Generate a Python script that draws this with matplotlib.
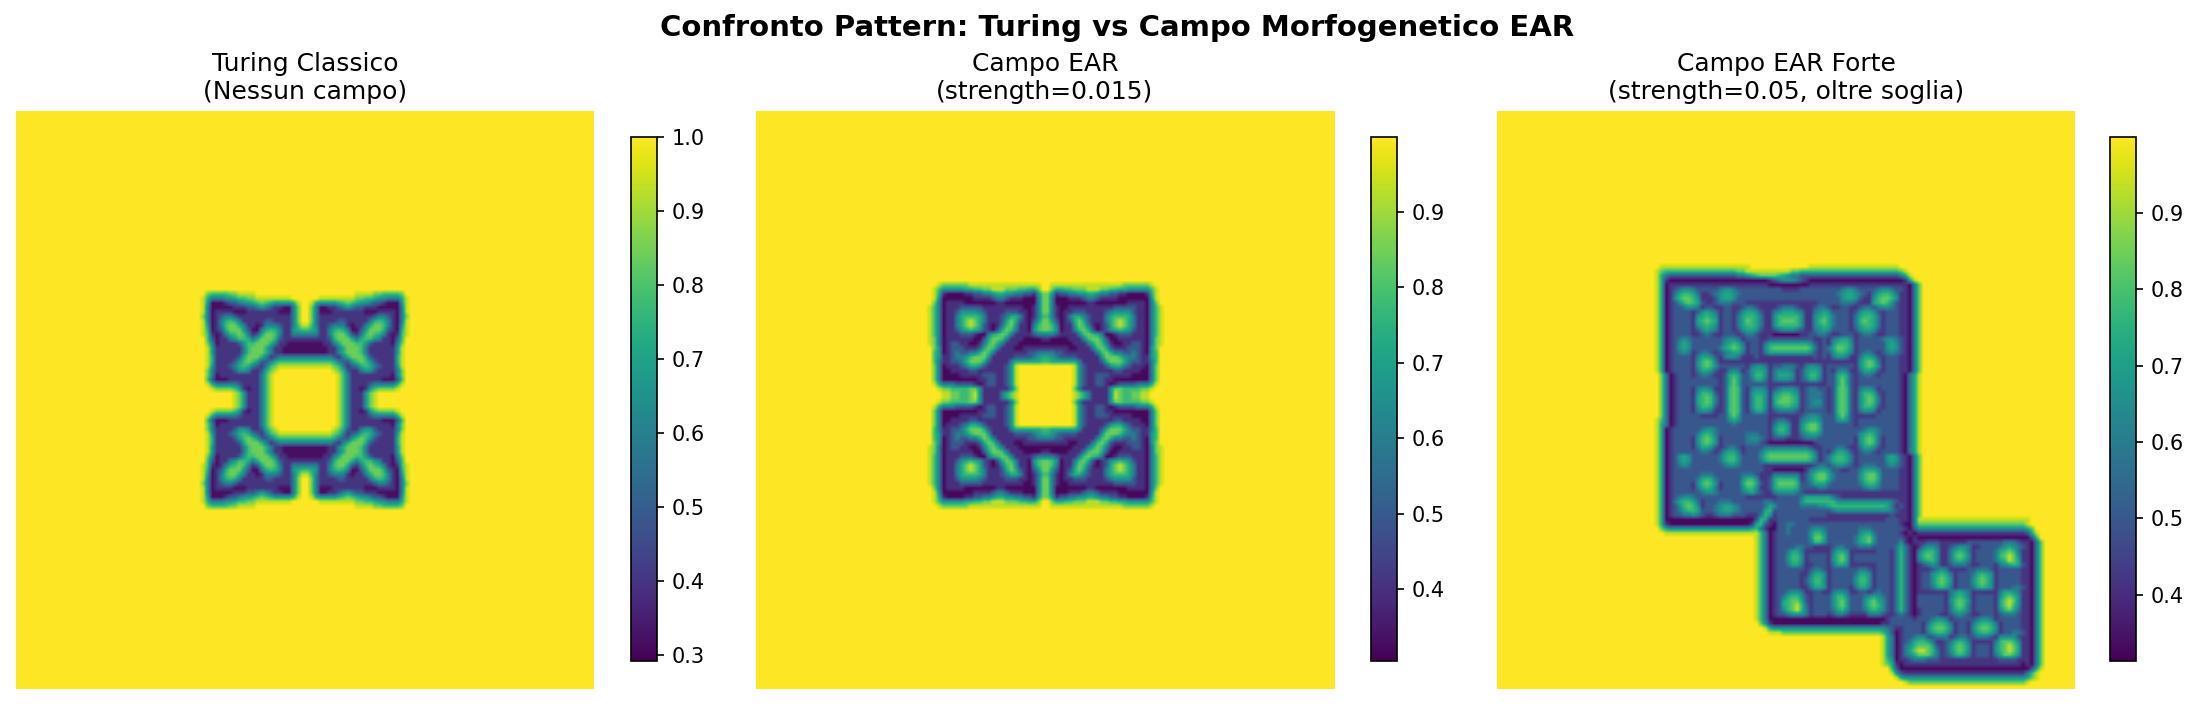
import numpy as np
import matplotlib
matplotlib.use('Agg')
import matplotlib.pyplot as plt

# niveaux : chaque chiffre des lignes = un niveau de u
livelli = [0.32, 0.40, 0.50, 0.60, 0.67, 0.73, 0.78, 0.84, 0.93, 1.0]
livelli_3 = [0.33, 0.42, 0.50, 0.59, 0.66, 0.72, 0.77, 0.83, 0.93, 1.0]

titoli = ['Turing Classico\n(Nessun campo)',
          'Campo EAR\n(strength=0.015)',
          'Campo EAR Forte\n(strength=0.05, oltre soglia)']
vmin_pannelli = [0.292, 0.305, 0.3136]
vmax_pannelli = [1.0, 0.999, 0.999]

# griglia 128x128, hors zone = jaune
N = 128
inizio_1 = (39, 39)
inizio_2 = (37, 37)
inizio_3 = (33, 33)

righe_1 = [
    '9',
    '9997666677888899999999999' '9999999999988887766667999',
    '9985333445667788888888999' '9998888888877665443335899',
    '9984000122344567654444589' '9854444567654432210004899',
    '9983000001112234321100379' '9730011234322111000003899',
    '9983011110001111111000379' '9730001111111000111103899',
    '9973012332111111111111379' '9731111111111112332103799',
    '9983013565311111221111379' '9731111221111135653103899',
    '9984013677531101333211368' '8631123331011357763104899',
    '9985012577742003565311456' '6541135653002477752105899',
    '9986101356763125776311333' '3331136775213676531016899',
    '9996201134665357775211111' '1111125777535664311026999',
    '9997301111246677753110000' '0000113577766421111037999',
    '9998411111136777531100000' '0000011357776311111148999',
    '9998411111136777531100000' '0000011357776311111148999',
    '9998511111257775312333333' '3333332135777521111158999',
    '9998511112467642235666666' '6666665322467642111158999',
    '9998411123565321367888888' '8888887631235653211148999',
    '9997311112443112578999999' '9999998752113442111137999',
    '9997301111111113689999999' '9999999863111111111037999',
    '9996200011111113689999999' '9999999863111111100026999',
    '9998533333211113689999999' '9999999863111123333358999',
    '9999877776410113689999999' '9999999863110146777789999',
    '9999999998741113689999999' '9999999863111478999999999',
    '9999999998741113689999999' '9999999863111478999999999',
    '9999999998741113689999999' '9999999863111478999999999',
    '9999999998741113689999999' '9999999863111478999999999',
    '9999877776410113689999999' '9999999863110146777789999',
    '9998533333211113689999999' '9999999863111123333358999',
    '9996200011111113689999999' '9999999863111111100026999',
    '9997301111111113689999999' '9999999863111111111037999',
    '9997311112443112578999999' '9999998752113442111137999',
    '9998411123565321367888888' '8888887631235653211148999',
    '9998511112467642235666666' '6666665322467642111158999',
    '9998511111257775312333333' '3333332135777521111158999',
    '9998411111136777531100000' '0000011357776311111148999',
    '9998411111136777531100000' '0000011357776311111148999',
    '9997301111246677753110000' '0000113577766421111037999',
    '9996201134665357775211111' '1111125777535664311026999',
    '9986101356763125776311333' '3331136775213676531016899',
    '9985012577742003565311456' '6541135653002477752105899',
    '9984013677531101333211368' '8631123331011357763104899',
    '9983013565311111221111379' '9731111221111135653103899',
    '9973012332111111111111379' '9731111111111112332103799',
    '9983011110001111111000379' '9730001111111000111103899',
    '9983000001112234321100379' '9730011234322111000003899',
    '9984000122344567654444589' '9854444567654432210004899',
    '9985333445667788888888999' '9998888888877665443335899',
    '9997666677888899999999999' '9999999999988887766667999',
    '9',
]

righe_2 = [
    '9',
    '999877777788888888888888889' '988888888888888887777778999',
    '998644444556677888777665579' '975566777888776655444446899',
    '998510000112233455443322147' '741223344554332211000015899',
    '998400000001111233211100037' '730001112332111100000004899',
    '997301111000000011000000037' '730000000110000000111103799',
    '986301112222211111111100137' '731001111111111222221103689',
    '986301124444321111222110137' '731011222111123444421103689',
    '986301135666531112355310136' '631013553211135666531103689',
    '986301135787531112575210247' '742012575211135787531103689',
    '986301135787521013674110367' '763011476310125787531103689',
    '986301124565421025763110467' '764011367520124565421103689',
    '986301112221003567631111233' '332111136765300122211103689',
    '987301111110025776311100001' '100001113677520011111103789',
    '987301221100136753111000000' '000000111357631001122103789',
    '997401222111257631110011111' '111110011136752111222104799',
    '996401232233576311111112233' '332211111113675332232104699',
    '996411233467774111112222345' '543222211111477764332114699',
    '996311223577752111135555556' '655555531111257775322113699',
    '997301112355421111248999999' '999999842111124553211103799',
    '997300111122111111248999999' '999999842111111221111003799',
    '997300001111122211248999999' '999999842112221111100003799',
    '997300000000112211248999999' '999999842112211000000003799',
    '998533322221012211248999999' '999999842112210122223335899',
    '999877666677411111137999999' '999999731111114776666778999',
    '999988776678411113578999999' '999999875311114876677889999',
    '999988776678411113578999999' '999999875311114876677889999',
    '999877666677411111137999999' '999999731111114776666778999',
    '998533322221012211248999999' '999999842112210122223335899',
    '997300000000112211248999999' '999999842112211000000003799',
    '997300001111122211248999999' '999999842112221111100003799',
    '997300111122111111248999999' '999999842111111221111003799',
    '997301112355421111248999999' '999999842111124553211103799',
    '996311223577752111135555556' '655555531111257775322113699',
    '996411233467774111112222345' '543222211111477764332114699',
    '996401232233576311111112233' '332211111113675332232104699',
    '997401222111257631110011111' '111110011136752111222104799',
    '987301221100136753111000000' '000000111357631001122103789',
    '987301111110025776311100001' '100001113677520011111103789',
    '986301112221003567631111233' '332111136765300122211103689',
    '986301124565421025763110467' '764011367520124565421103689',
    '986301135787521013674110367' '763011476310125787531103689',
    '986301135787531112575210247' '742012575211135787531103689',
    '986301135666531112355310136' '631013553211135666531103689',
    '986301124444321111222110137' '731011222111123444421103689',
    '986301112222211111111100137' '731001111111111222221103689',
    '997301111000000011000000037' '730000000110000000111103799',
    '998400000001111233211100037' '730001112332111100000004899',
    '998510000112233455443322147' '741223344554332211000015899',
    '998644444556677888777665579' '975566777888776655444446899',
    '999877777788888888888888889' '988888888888888887777778999',
    '9',
]

# spazi solo per leggere le colonne
righe_3 = [
    '9',
    '9998888888 8888888888 8889999999 9999998888 8888888888 8888889999',
    '9987666666 6666666666 7788888888 8877666666 6666666666 6666667899',
    '9985322222 2222222222 3345677776 5433222222 2222222222 2222223589',
    '9985100000 0000000000 0000000123 4443210000 0000000000 0000000158',
    '9985011111 1111111111 1111111000 0000001111 1111111111 1111111103 79',
    '9985012344 3222223443 2222222222 1111222222 2223443222 2344322103 79',
    '9985013566 5311234554 3222222222 2222222222 2234554321 3566531103 79',
    '9985014677 6411124554 2222222222 2222222222 2224554211 4677641103 79',
    '9985012467 6521123332 2211111111 1111111122 2223332111 5676421103 79',
    '9985012234 4312211221 1233211112 3332111233 2112211233 2344321103 79',
    '9985012222 1245431221 2455421134 5554311345 4222212455 4212221103 79',
    '9985012222 1456541221 3566531146 6666411456 5322213566 5312221103 79',
    '9985012222 1567651221 3576531146 7776411467 5322213676 5312221103 79',
    '9985012222 1456541221 3566531146 6666411456 5322213566 5312221103 79',
    '9985012222 1245431221 2455421123 4443211345 4222212455 4212221103 79',
    '9985012222 1123211222 1233211100 0000112233 2112221233 2112221103 79',
    '9985012343 2222222344 3122211222 2222222112 1345531222 2234432103 79',
    '9985012454 2222222456 5312213555 5555554212 1466641222 2224542103 79',
    '9985012454 2222223567 6412214677 7777776312 3577641222 2224542103 79',
    '9985012343 1233212345 5312213555 5555554212 2466531233 2123432103 79',
    '9985012222 1355421344 3111211111 1111111212 1344311355 4212221103 79',
    '9985012222 1467631111 1111111111 1111111111 1111111467 6312221103 79',
    '9985012222 1467642222 2213443122 3332134431 2222221467 6412221103 79',
    '9985012222 1355421134 3124554134 4431245541 2134311355 4212221103 79',
    '9997301222 1233211256 5224664135 5541246641 2256521233 2122221035 89',
    '9997301222 2222221257 5223553134 4431235531 2257521222 2222221035 89',
    '9997301222 2222221257 5222222111 1111111111 2257521222 2222221035 89',
    '9997301222 1344311267 6213443123 4443123322 1267621344 3122221035 89',
    '9997301222 1466521267 6214554145 6654123332 1267621466 5212221035 89',
    '9997301222 1567631267 6214664156 7765123332 1267621467 6312221035 89',
    '9997301222 1567631267 6214664157 7765123442 1267621467 6312221035 89',
    '9997301222 1466521267 6214664145 6654123332 1267621466 5212221035 89',
    '9997301222 1344311267 6213553123 3332122222 1267621344 3122221035 89',
    '9997301222 2211112257 5222222111 1111234432 2257521111 1222221035 89',
    '9986301222 2222222245 4222222123 3211345542 2245421222 2222221035 89',
    '9985301222 2222222223 2222222135 5411467752 2222221222 2222221035 89',
    '9985012222 2234432222 2222222146 6411467752 2222222234 4322221035 89',
    '9985012222 2356532222 2233322135 5411345542 2222222456 5322221035 89',
    '9985012222 1467641222 2234432122 2111233322 2222221467 6312221035 89',
    '9985012222 1467641222 2233321000 0000000122 2222221467 6312221035 89',
    '9985012222 1355421233 2122223333 3333332112 2233211355 4212221035 89',
    '9985012222 2233212455 3122235666 6666665312 1355421233 2122221035 89',
    '9985012454 2222223566 4222246777 7777776412 3566531222 2224542103 79',
    '9985012454 2222223566 4222235666 6666665312 3566531222 2224542103 79',
    '9985012343 2222222344 3222221111 1111111233 2344321233 3223432103 79',
    '9985012222 2222222222 2222221100 0000013455 4221122355 5422221103 79',
    '9985012222 2233322222 2333211133 3333124677 5322222467 7522221103 79',
    '9985012222 2356532222 2466411256 6665124677 5322222467 7522221103 79',
    '9985012222 1467641222 2577521257 7776223555 3222222356 6422221103 79',
    '9985012222 1356531222 2466411256 6665222233 2222222234 4322221103 79',
    '9985012222 2234432222 2345321134 4443211111 1111111111 1111111103 79',
    '9985012344 3222222222 2211111112 2222355555 5321111111 1111111103 79',
    '9985013566 5312223332 2222223322 2222466666 6644444444 4444321103 79',
    '9985012467 6412234554 3222223542 2222333344 5666666666 6665312103 79',
    '9985012356 6522234554 3222225622 2222222222 2344444444 4444321103 79',
    '9985012233 4321123332 2211136412 2222222222 1111111111 1111211103 79',
    '9985000000 0000000000 0000265112 2222221111 1111111111 1112221103 8888888888 8888888888 88888',
    '9985100000 0000000000 0001562102 2332222222 2222222222 2222221003 7777777777 7777777777 77778',
    '9997544444 4444444444 4445631002 2322223443 2222222333 2222222102 4444444444 4444444444 44445 79',
    '9999888888 8888888888 8888863012 2322224664 2222222455 3222221010 1111111111 1111111111 11112 58',
    '9999999999 9999999999 9999863012 2222224775 2222223567 4222222101 0000000000 0000000000 00000 26',
    '9999999999 9999999999 9999863012 2222223664 2222223567 4222224101 1122211111 1222222223 33211 037',
    '9999999999 9999999999 9999863012 2223322111 1233222333 2222235310 1344311234 4311222234 54321 037',
    '9999999999 9999999999 9999863012 2355311111 1355411111 1222136310 3566411356 5312222356 76311 037',
    '9999999999 9999999999 9999863012 2466412222 1467512222 2222136310 4676411367 6412222367 87411 037',
    '9999999999 9999999999 9999863012 2466412222 1467512222 2222136310 3566411356 5312222356 87511 037',
    '9999999999 9999999999 9999863012 2355311222 1355411111 1222136310 1234311233 3211222134 56521 037',
    '9999999999 9999999999 9999863012 2222212332 1222222332 1222136310 1112343111 1223332122 22211 037',
    '9999999999 9999999999 9999863012 2222113554 1222223554 1222136310 1224565312 2235654122 22211 037',
    '9999999999 9999999999 9999863012 2222124664 1222224664 1222136310 1224676412 2246764122 22211 037',
    '9999999999 9999999999 9999863012 2222124664 1222224664 1222136310 1224676412 2246764122 22211 037',
    '9999999999 9999999999 9999863012 2222113554 1222213553 1222136310 1223565312 2235654122 23321 037',
    '9999999999 9999999999 9999863012 2344311221 1344311221 2322136310 1111111345 4311111135 54311 037',
    '9999999999 9999999999 9999863012 3566421222 2466422234 5432136310 2222221356 5312222146 76411 037',
    '9999999999 9999999999 9999863012 5677521222 2467522246 7542136310 2222221467 6412222157 87411 037',
    '9999999999 9999999999 9999863012 5678631222 2467522246 7642136310 2222221367 6312222157 86411 037',
    '9999999999 9999999999 9999863012 4678631222 2356422235 6542136310 1222221356 5312222146 75311 037',
    '9999999999 9999999999 9999863012 2344431222 1233211113 3321123210 1222211234 3211222123 33211 037',
    '9999999999 9999999999 9999863000 0000000000 0000000000 0001222221 2223443122 2223443122 22211 037',
    '9999999999 9999999999 9999974100 0000000000 0000000000 0011222222 2135665312 2135665312 22211 037',
    '9999999999 9999999999 9999998544 4444444444 4444444444 4443211222 2146776412 2146776412 22211 037',
    '9999999999 9999999999 9999999888 7777777777 7777777777 7764201222 2135665312 2135665312 23321 037',
    '9999999999 9999999999 9999999999 9999999999 9999999999 9985301223 4422333123 3223332144 44211 037',
    '9999999999 9999999999 9999999999 9999999999 9999999999 9985301235 6653112356 5311111367 76411 037',
    '9999999999 9999999999 9999999999 9999999999 9999999999 9985301346 7775212467 6412221467 87511 037',
    '9999999999 9999999999 9999999999 9999999999 9999999999 9985301357 8876312467 6412221467 87511 037',
    '9999999999 9999999999 9999999999 9999999999 9999999999 9985301345 7775312356 5312221357 76411 037',
    '9999999999 9999999999 9999999999 9999999999 9999999999 9986401123 3322211111 1111111122 22111 037',
    '9999999999 9999999999 9999999999 9999999999 9999999999 9987510111 1111111111 1111111111 11101 037',
    '9999999999 9999999999 9999999999 9999999999 9999999999 9999620000 0000000000 0000000000 00000 258',
    '9999999999 9999999999 9999999999 9999999999 9999999999 9999842111 1111111111 1111111111 11113 68',
    '9999999999 9999999999 9999999999 9999999999 9999999999 9999985444 4444444444 4444444444 44445 78',
    '9999999999 9999999999 9999999999 9999999999 9999999999 9999999877 7777777777 7777777777 77778',
]


def costruisci(righe, inizio, valori):
    u = np.full((N, N), valori[-1])
    for i, riga in enumerate(righe):
        riga = riga.replace(' ', '')
        for j, c in enumerate(riga):
            u[inizio[0] + i, inizio[1] + j] = valori[int(c)]
    return u


campi = [costruisci(righe_1, inizio_1, livelli),
         costruisci(righe_2, inizio_2, livelli),
         costruisci(righe_3, inizio_3, livelli_3)]

W, H = 2200, 705
fig = plt.figure(figsize=(W / 150, H / 150), dpi=150)
fig.suptitle('Confronto Pattern: Turing vs Campo Morfogenetico EAR',
             fontsize=14, fontweight='bold', x=0.5077, y=0.9605, va='center')

x_assi = [14, 754, 1495]
x_barre = [631, 1371, 2110]
for k in range(3):
    ax = fig.add_axes([x_assi[k] / W, 1 - 689 / H, 582 / W, 578 / H])
    im = ax.imshow(campi[k], cmap='viridis', vmin=vmin_pannelli[k], vmax=vmax_pannelli[k],
                   interpolation='bilinear')
    ax.set_title(titoli[k], fontsize=12)
    ax.axis('off')
    cax = fig.add_axes([x_barre[k] / W, 1 - 661 / H, 26 / W, 524 / H])
    fig.colorbar(im, cax=cax)

fig.savefig('out.png', dpi=150)
